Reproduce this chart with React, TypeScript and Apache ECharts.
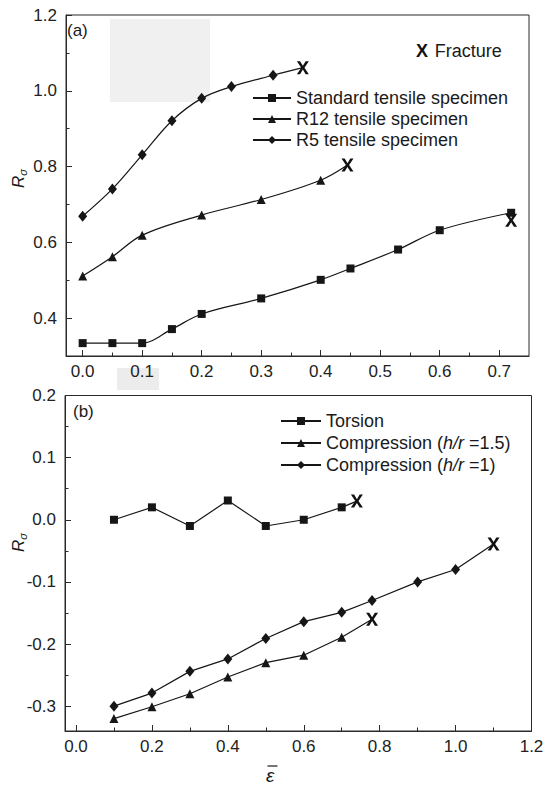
import React, { useEffect, useRef } from 'react';
import * as echarts from 'echarts';

// Panel (a): tensile specimens
const stdX = [0, 0.05, 0.1, 0.15, 0.2, 0.3, 0.4, 0.45, 0.53, 0.6, 0.72];
const stdY = [0.334, 0.334, 0.334, 0.371, 0.411, 0.452, 0.501, 0.531, 0.581, 0.632, 0.678];
const r12X = [0, 0.05, 0.1, 0.2, 0.3, 0.4];
const r12Y = [0.511, 0.562, 0.619, 0.672, 0.713, 0.764];
const r5X = [0, 0.05, 0.1, 0.15, 0.2, 0.25, 0.32];
const r5Y = [0.669, 0.741, 0.831, 0.921, 0.98, 1.011, 1.041];
// fracture points (a): standard, R12, R5
const fracAX = [0.72, 0.445, 0.37];
const fracAY = [0.658, 0.804, 1.061];

// Panel (b): torsion and compression
const torX = [0.1, 0.2, 0.3, 0.4, 0.5, 0.6, 0.7];
const torY = [0, 0.02, -0.01, 0.031, -0.01, 0, 0.02];
const c15X = [0.1, 0.2, 0.3, 0.4, 0.5, 0.6, 0.7];
const c15Y = [-0.32, -0.301, -0.28, -0.253, -0.23, -0.218, -0.189];
const c1X = [0.1, 0.2, 0.3, 0.4, 0.5, 0.6, 0.7, 0.78, 0.9, 1.0];
const c1Y = [-0.3, -0.279, -0.244, -0.224, -0.191, -0.164, -0.149, -0.13, -0.1, -0.08];
// fracture points (b): torsion, h/r=1.5, h/r=1
const fracBX = [0.74, 0.78, 1.1];
const fracBY = [0.03, -0.16, -0.039];

// tick values
const xTicksA = [0, 0.1, 0.2, 0.3, 0.4, 0.5, 0.6, 0.7];
const xMinorA = [0.05, 0.15, 0.25, 0.35, 0.45, 0.55, 0.65];
const yTicksA = [0.4, 0.6, 0.8, 1.0, 1.2];
const yMinorA = [0.5, 0.7, 0.9, 1.1];
const xTicksB = [0, 0.2, 0.4, 0.6, 0.8, 1.0, 1.2];
const xMinorB = [0.1, 0.3, 0.5, 0.7, 0.9, 1.1];
const yTicksB = [-0.3, -0.2, -0.1, 0, 0.1, 0.2];
const yMinorB = [-0.25, -0.15, -0.05, 0.05, 0.15];

const namesA = ['Standard tensile specimen', 'R12 tensile specimen', 'R5 tensile specimen'];
const namesB = ['Torsion', 'Compression (h/r =1.5)', 'Compression (h/r =1)'];

const FONT = '"Liberation Sans", Arial, sans-serif';
const INK = '#161616';
const AX = '#2a2a2a';
const X_PATH = 'path://M0,0 H3.2 L6,4.6 L8.8,0 H12 L7.6,6.5 L12,13 H8.8 L6,8.4 L3.2,13 H0 L4.4,6.5 Z';

const zip = (xs: number[], ys: number[]) => xs.map((x, i) => [x, ys[i]]);

function lineSeries(name: string, xs: number[], ys: number[], symbol: string, size: any, idx: number, smooth: any, frac?: number[]) {
  const data: any[] = zip(xs, ys);
  if (frac) data.push({ value: frac, symbol: 'none' });
  return {
    type: 'line',
    name,
    xAxisIndex: idx,
    yAxisIndex: idx,
    data,
    symbol,
    symbolSize: size,
    smooth,
    showAllSymbol: true,
    lineStyle: { color: INK, width: 1.2 },
    itemStyle: { color: INK },
    z: 3,
  };
}

function fracSeries(idx: number, xs: number[], ys: number[]) {
  return {
    type: 'scatter',
    name: 'Fracture',
    xAxisIndex: idx,
    yAxisIndex: idx,
    data: zip(xs, ys),
    symbol: X_PATH,
    symbolSize: [12, 13],
    itemStyle: { color: '#111', opacity: 1 },
    z: 4,
  };
}

function mainAxis(gridIndex: number, min: number, max: number, ticks: number[], margin: number) {
  return {
    type: 'value',
    gridIndex,
    min,
    max,
    axisLine: { show: true, onZero: false, lineStyle: { color: AX, width: 1 } },
    axisTick: { show: true, inside: true, length: 6, customValues: ticks, lineStyle: { color: AX } },
    splitLine: { show: false },
    axisLabel: {
      show: true,
      customValues: ticks,
      margin,
      fontFamily: FONT,
      fontSize: 17,
      color: '#222',
      formatter: (v: number) => v.toFixed(1),
    },
  };
}

function minorAxis(gridIndex: number, min: number, max: number, ticks: number[]) {
  return {
    type: 'value',
    gridIndex,
    min,
    max,
    axisLine: { show: false, onZero: false },
    axisTick: { show: true, inside: true, length: 3.5, customValues: ticks, lineStyle: { color: AX } },
    splitLine: { show: false },
    axisLabel: { show: false },
  };
}

const gridA = { left: 66, top: 15, right: 17, height: 341 };
const gridB = { left: 65, top: 395.5, right: 14.5, height: 335.5 };

export default function App() {
  const ref = useRef<HTMLDivElement>(null);
  useEffect(() => {
    if (!ref.current) return;
    const chart = echarts.init(ref.current, null, { renderer: 'svg' });
    const rsText = (y: number) => ({
      type: 'text', x: 9, y, rotation: Math.PI / 2,
      style: {
        text: '{r|R}{s|σ}',
        rich: {
          r: { fontFamily: FONT, fontSize: 17, fontStyle: 'italic', fill: '#1a1a1a' },
          s: { fontFamily: FONT, fontSize: 11, fontStyle: 'italic', fill: '#1a1a1a', padding: [8, 0, 0, 0] },
        },
      },
    });

    const option: any = {
      animation: false,
      backgroundColor: '#ffffff',
      textStyle: { fontFamily: FONT },
      grid: [
        { ...gridA, show: true, borderColor: AX, borderWidth: 1, backgroundColor: 'transparent', outerBoundsMode: 'none' },
        { ...gridB, show: true, borderColor: AX, borderWidth: 1, backgroundColor: 'transparent', outerBoundsMode: 'none' },
        { ...gridA, show: false, outerBoundsMode: 'none' },
        { ...gridB, show: false, outerBoundsMode: 'none' },
      ],
      xAxis: [
        mainAxis(0, -0.028, 0.75, xTicksA, 7),
        mainAxis(1, -0.029, 1.2, xTicksB, 7),
        minorAxis(2, -0.028, 0.75, xMinorA),
        minorAxis(3, -0.029, 1.2, xMinorB),
      ],
      yAxis: [
        mainAxis(0, 0.3, 1.2, yTicksA, 9),
        mainAxis(1, -0.34, 0.2, yTicksB, 9),
        minorAxis(2, 0.3, 1.2, yMinorA),
        minorAxis(3, -0.34, 0.2, yMinorB),
      ],
      legend: [
        {
          data: namesA,
          orient: 'vertical',
          left: 252,
          top: 88,
          itemWidth: 38,
          itemHeight: 10,
          itemGap: 1,
          padding: 0,
          textStyle: { fontFamily: FONT, fontSize: 18, color: '#1a1a1a', lineHeight: 20 },
          selectedMode: false,
        },
        {
          data: namesB,
          orient: 'vertical',
          left: 280,
          top: 411,
          itemWidth: 40,
          itemHeight: 10,
          itemGap: 2,
          padding: 0,
          selectedMode: false,
          formatter: (n: string) => {
            const m = n.match(/^(Compression \()h\/r( =.*\))$/);
            if (!m) return '{n|' + n + '}';
            return '{n|' + m[1] + '}{i|h/r}{n|' + m[2] + '}';
          },
          textStyle: {
            fontFamily: FONT,
            fontSize: 18,
            color: '#1a1a1a',
            lineHeight: 20,
            rich: {
              n: { fontFamily: FONT, fontSize: 18, color: '#1a1a1a', lineHeight: 20 },
              i: { fontFamily: FONT, fontSize: 18, color: '#1a1a1a', fontStyle: 'italic', lineHeight: 20 },
            },
          },
        },
      ],
      series: [
        lineSeries(namesA[0], stdX, stdY, 'rect', 8, 0, 0.35),
        lineSeries(namesA[1], r12X, r12Y, 'triangle', 9, 0, 0.35, [fracAX[1], fracAY[1]]),
        lineSeries(namesA[2], r5X, r5Y, 'diamond', [9, 11], 0, 0.35, [fracAX[2], fracAY[2]]),
        fracSeries(0, fracAX, fracAY),
        lineSeries(namesB[0], torX, torY, 'rect', 8, 1, false, [fracBX[0], fracBY[0]]),
        lineSeries(namesB[1], c15X, c15Y, 'triangle', 9, 1, false, [fracBX[1], fracBY[1]]),
        lineSeries(namesB[2], c1X, c1Y, 'diamond', [9, 11], 1, false, [fracBX[2], fracBY[2]]),
        fracSeries(1, fracBX, fracBY),
      ],
      graphic: [
        // faint scan artefacts
        { type: 'rect', z: -10, shape: { x: 110, y: 19, width: 100, height: 83 }, style: { fill: '#f0f0f0' } },
        { type: 'rect', z: -10, shape: { x: 117, y: 368, width: 42, height: 22 }, style: { fill: '#ececec' } },
        // panel labels
        { type: 'text', x: 67, y: 22, style: { text: '(a)', font: '17px ' + FONT, fill: '#1a1a1a' } },
        { type: 'text', x: 73, y: 403, style: { text: '(b)', font: '17px ' + FONT, fill: '#1a1a1a' } },
        // fracture key
        {
          type: 'text', x: 416, y: 42,
          style: {
            text: '{b|X}  {n|Fracture}',
            rich: {
              b: { fontFamily: FONT, fontSize: 18, fontWeight: 'bold', fill: '#111' },
              n: { fontFamily: FONT, fontSize: 18, fill: '#1a1a1a' },
            },
          },
        },
        // y axis titles
        rsText(188),
        rsText(552),
        // x axis title (epsilon with bar)
        { type: 'text', x: 266, y: 766, style: { text: 'ε', font: 'italic 19px ' + FONT, fill: '#1a1a1a' } },
        { type: 'line', shape: { x1: 267.5, y1: 766, x2: 277.5, y2: 766 }, style: { stroke: '#1a1a1a', lineWidth: 1.2 } },
      ],
    };
    chart.setOption(option);
    return () => chart.dispose();
  }, []);
  return <div ref={ref} style={{ position: 'fixed', left: 0, top: 0, width: 546, height: 789, background: '#fff' }} />;
}
